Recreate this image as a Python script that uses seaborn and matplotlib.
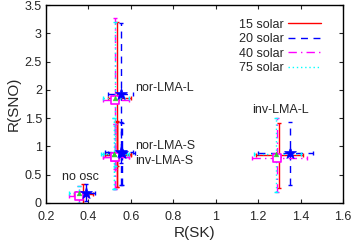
import seaborn as sns
import numpy as np
import matplotlib
matplotlib.use("Agg")
import matplotlib.pyplot as plt
from matplotlib.lines import Line2D

sns.set_style("ticks")
plt.rcParams["font.family"] = ["Liberation Sans", "DejaVu Sans"]

# scenarios: no osc, nor-LMA-L, nor-LMA-S, inv-LMA-S, inv-LMA-L
models = ["15 solar", "20 solar", "40 solar", "75 solar"]

# central values
sk_15 = [0.375, 0.535, 0.535, 0.535, 1.30]
sno_15 = [0.16, 1.85, 0.86, 0.85, 0.84]
sk_20 = [0.39, 0.555, 0.555, 0.56, 1.35]
sno_20 = [0.18, 1.93, 0.90, 0.88, 0.88]
sk_40 = [0.355, 0.525, 0.525, 0.525, 1.29]
sno_40 = [0.13, 1.82, 0.82, 0.82, 0.79]
sk_75 = [0.355, 0.525, 0.52, 0.52, 1.285]
sno_75 = [0.17, 1.86, 0.87, 0.86, 0.87]

# error ranges (low, high)
sk_lo_15 = [0.33, 0.49, 0.48, 0.48, 1.19]
sk_hi_15 = [0.42, 0.60, 0.60, 0.60, 1.41]
sno_lo_15 = [0.00, 0.65, 0.28, 0.28, 0.27]
sno_hi_15 = [0.33, 3.20, 1.45, 1.44, 1.41]

sk_lo_20 = [0.34, 0.49, 0.48, 0.49, 1.20]
sk_hi_20 = [0.43, 0.61, 0.61, 0.62, 1.46]
sno_lo_20 = [0.03, 0.70, 0.32, 0.32, 0.32]
sno_hi_20 = [0.33, 3.18, 1.43, 1.42, 1.43]

sk_lo_40 = [0.31, 0.47, 0.47, 0.47, 1.17]
sk_hi_40 = [0.40, 0.59, 0.59, 0.59, 1.43]
sno_lo_40 = [0.00, 0.60, 0.25, 0.25, 0.20]
sno_hi_40 = [0.30, 3.27, 1.40, 1.40, 1.50]

sk_lo_75 = [0.31, 0.47, 0.47, 0.46, 1.18]
sk_hi_75 = [0.40, 0.59, 0.59, 0.58, 1.40]
sno_lo_75 = [0.00, 0.65, 0.25, 0.25, 0.20]
sno_hi_75 = [0.30, 3.20, 1.50, 1.50, 1.50]

colors = ["red", "blue", "magenta", "cyan"]
styles = ["-", (0, (5, 4)), (0, (6, 3, 1, 3)), (0, (1, 2))]
markers = ["^", "*", "s", "^"]
mcolors = ["red", "blue", "magenta", "limegreen"]

labels_txt = ["no osc", "nor-LMA-L", "nor-LMA-S", "inv-LMA-S", "inv-LMA-L"]
label_x = [0.36, 0.62, 0.62, 0.62, 1.17]
label_y = [0.45, 2.03, 1.0, 0.75, 1.64]

data = [
    (sk_15, sno_15, sk_lo_15, sk_hi_15, sno_lo_15, sno_hi_15),
    (sk_20, sno_20, sk_lo_20, sk_hi_20, sno_lo_20, sno_hi_20),
    (sk_40, sno_40, sk_lo_40, sk_hi_40, sno_lo_40, sno_hi_40),
    (sk_75, sno_75, sk_lo_75, sk_hi_75, sno_lo_75, sno_hi_75),
]

fig = plt.figure(figsize=(3.54, 2.43), dpi=100)
ax = fig.add_axes([0.130, 0.165, 0.839, 0.814])

for i, (x, y, xl, xh, yl, yh) in enumerate(data):
    x = np.array(x); y = np.array(y)
    xerr = [x - np.array(xl), np.array(xh) - x]
    yerr = [y - np.array(yl), np.array(yh) - y]
    eb = ax.errorbar(x, y, xerr=xerr, yerr=yerr, fmt="none", ecolor=colors[i],
                     elinewidth=1.0, capsize=1.5, capthick=1.0, zorder=2 + i * 0.1)
    for lc in eb[2]:
        lc.set_linestyle(styles[i])

for i, (x, y, *_ ) in enumerate(data):
    if markers[i] == "s":
        sns.scatterplot(x=x, y=y, marker="s", s=28, facecolor="white",
                        edgecolor=mcolors[i], linewidth=1.2, ax=ax, zorder=5)
    elif markers[i] == "*":
        sns.scatterplot(x=x, y=y, marker="*", s=80, color=mcolors[i],
                        edgecolor=mcolors[i], linewidth=0.5, ax=ax, zorder=6)
    else:
        sns.scatterplot(x=x, y=y, marker=markers[i], s=12, color=mcolors[i],
                        edgecolor=mcolors[i], linewidth=0.3, ax=ax, zorder=5)

for t, lx, ly in zip(labels_txt, label_x, label_y):
    ax.text(lx, ly, t, fontsize=9, ha="left" if t != "no osc" else "center",
            va="center")

handles = [Line2D([0], [0], color=colors[i], linestyle=styles[i], lw=1.0)
           for i in range(4)]
ax.legend(handles, models, loc="upper right", bbox_to_anchor=(0.955, 0.975),
          frameon=False, markerfirst=False, fontsize=9, handlelength=2.6,
          handletextpad=0.4, labelspacing=0.2, borderpad=0.2)

ax.set_xlim(0.2, 1.6)
ax.set_ylim(0, 3.5)
ax.set_xticks([0.2, 0.4, 0.6, 0.8, 1.0, 1.2, 1.4, 1.6])
ax.set_xticklabels(["0.2", "0.4", "0.6", "0.8", "1", "1.2", "1.4", "1.6"])
ax.set_yticks([0, 0.5, 1, 1.5, 2, 2.5, 3, 3.5])
ax.set_yticklabels(["0", "0.5", "1", "1.5", "2", "2.5", "3", "3.5"])
ax.tick_params(direction="in", length=3, width=0.8, labelsize=9,
               top=True, right=True)
ax.tick_params(axis="x", pad=6)
ax.tick_params(axis="y", pad=3)
for sp in ax.spines.values():
    sp.set_linewidth(1.0)
    sp.set_color("black")
ax.set_xlabel("R(SK)", fontsize=11, labelpad=2)
ax.set_ylabel("R(SNO)", fontsize=11, labelpad=3)

fig.savefig("out.png", dpi=100)
